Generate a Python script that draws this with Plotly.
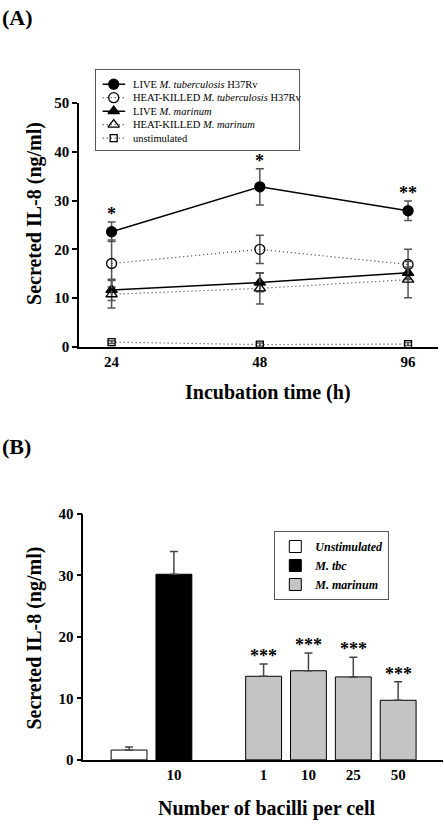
import plotly.graph_objects as go

# ---------------- Panel A data ----------------
times = ["24", "48", "96"]
live_tb = [23.6, 32.8, 27.9]
live_tb_err = [2.0, 3.7, 2.0]
hk_tb = [17.1, 20.0, 16.9]
hk_tb_err = [4.8, 2.9, 3.1]
live_mar = [11.7, 13.2, 15.2]
live_mar_err = [2.2, 1.9, 1.2]
hk_mar = [10.8, 12.0, 13.8]
hk_mar_err = [2.8, 3.2, 3.7]
unstim = [1.0, 0.5, 0.6]
unstim_err = [0.3, 0.3, 0.3]
sig_a = ["*", "*", "**"]
series_names = [
    "LIVE <i>M. tuberculosis</i> H37Rv",
    "HEAT-KILLED <i>M. tuberculosis</i> H37Rv",
    "LIVE <i>M. marinum</i>",
    "HEAT-KILLED <i>M. marinum</i>",
    "unstimulated",
]

# ---------------- Panel B data ----------------
b_unstim_x = ["U"]
b_unstim = [1.6]
b_unstim_err = [0.5]
b_tbc_x = ["T10"]
b_tbc = [30.2]
b_tbc_err = [3.7]
b_mar_x = ["M1", "M10", "M25", "M50"]
b_mar = [13.6, 14.5, 13.5, 9.7]
b_mar_err = [2.0, 2.9, 3.2, 3.0]
sig_b = ["***", "***", "***", "***"]
b_categories = ["U", "T10", "gap", "M1", "M10", "M25", "M50"]
b_ticktext = ["", "10", "", "1", "10", "25", "50"]

FONT = "Liberation Serif"
W, H = 444, 828
DOT = "1px,3px"


def pfy(px):
    return (H - px) / H


def pfx(px):
    return px / W


fig = go.Figure()

styles = [
    dict(symbol="circle", size=10, dash="solid", lw=1.5, lc="black"),
    dict(symbol="circle-open", size=10, dash=DOT, lw=1.2, lc="#333"),
    dict(symbol="triangle-up", size=10, dash="solid", lw=1.5, lc="black"),
    dict(symbol="triangle-up-open", size=10, dash=DOT, lw=1.2, lc="#333"),
    dict(symbol="square-open", size=7, dash=DOT, lw=1.2, lc="#333"),
]
values = [live_tb, hk_tb, live_mar, hk_mar, unstim]
errors = [live_tb_err, hk_tb_err, live_mar_err, hk_mar_err, unstim_err]

for name, y, e, st in zip(series_names, values, errors, styles):
    fig.add_trace(go.Scatter(
        x=times, y=y, name=name, mode="lines+markers", showlegend=False,
        line=dict(color=st["lc"], width=st["lw"], dash=st["dash"]),
        marker=dict(symbol=st["symbol"], size=st["size"], color="black",
                    line=dict(color="black", width=1.3)),
        error_y=dict(type="data", array=e, visible=True, color="#555", thickness=1.5, width=4),
        cliponaxis=False, xaxis="x", yaxis="y",
    ))

# ---- custom compact legend for panel A (drawn on its own small axis) ----
LEG_L, LEG_R, LEG_T, LEG_B = 95.7, 299.0, 63.3, 145.0
row0, row_step = 14.4, 13.75
key_x0, key_x1, key_mid, text_x = 7.0, 29.5, 18.0, 35.0
leg_ann = []
for i, (name, st) in enumerate(zip(series_names, styles)):
    ry = row0 + row_step * i
    fig.add_trace(go.Scatter(
        x=[key_x0, key_x1], y=[ry, ry], mode="lines", showlegend=False, hoverinfo="skip",
        line=dict(color=st["lc"], width=st["lw"], dash=st["dash"]), xaxis="x3", yaxis="y3"))
    fig.add_trace(go.Scatter(
        x=[key_mid], y=[ry], mode="markers", showlegend=False, hoverinfo="skip",
        marker=dict(symbol=st["symbol"], size=st["size"], color="black",
                    line=dict(color="black", width=1.3)), xaxis="x3", yaxis="y3"))
    leg_ann.append(dict(x=text_x, y=ry, xref="x3", yref="y3", text=name, showarrow=False,
                        xanchor="left", yanchor="middle",
                        font=dict(family=FONT, size=10.5, color="black")))

# Panel B bars
bar_err = dict(type="data", symmetric=False, color="#444", thickness=1.5, width=4)
fig.add_trace(go.Bar(x=b_unstim_x, y=b_unstim, name="<i>Unstimulated</i>",
                     marker=dict(color="white", line=dict(color="black", width=1)),
                     error_y=dict(bar_err, array=b_unstim_err, arrayminus=[0] * len(b_unstim)),
                     width=0.8, xaxis="x2", yaxis="y2", legend="legend2"))
fig.add_trace(go.Bar(x=b_tbc_x, y=b_tbc, name="<i>M. tbc</i>",
                     marker=dict(color="black", line=dict(color="black", width=1)),
                     error_y=dict(bar_err, array=b_tbc_err, arrayminus=[0] * len(b_tbc)),
                     width=0.8, xaxis="x2", yaxis="y2", legend="legend2"))
fig.add_trace(go.Bar(x=b_mar_x, y=b_mar, name="<i>M. marinum</i>",
                     marker=dict(color="#c4c4c4", line=dict(color="black", width=1)),
                     error_y=dict(bar_err, array=b_mar_err, arrayminus=[0] * len(b_mar)),
                     width=0.8, xaxis="x2", yaxis="y2", legend="legend2"))

# Annotations (category index used for panel A because its labels look numeric)
ann = list(leg_ann)
for i, (v, e, s) in enumerate(zip(live_tb, live_tb_err, sig_a)):
    ann.append(dict(x=i, y=v + e, xref="x", yref="y", text="<b>" + s + "</b>", showarrow=False,
                    yanchor="bottom", yshift=-4, font=dict(family=FONT, size=18, color="black")))
for c, v, e, s in zip(b_mar_x, b_mar, b_mar_err, sig_b):
    ann.append(dict(x=c, y=v + e, xref="x2", yref="y2", text="<b>" + s + "</b>", showarrow=False,
                    yanchor="bottom", yshift=-4, font=dict(family=FONT, size=18, color="black")))

ann += [
    dict(x=0, y=pfy(10), xref="paper", yref="paper", xanchor="left", yanchor="middle",
         text="<b>(A)</b>", showarrow=False, font=dict(family=FONT, size=22, color="black")),
    dict(x=0, y=pfy(447), xref="paper", yref="paper", xanchor="left", yanchor="middle",
         text="<b>(B)</b>", showarrow=False, font=dict(family=FONT, size=22, color="black")),
    dict(x=pfx(35), y=pfy(210), xref="paper", yref="paper", xanchor="center", yanchor="middle",
         text="<b>Secreted IL-8 (ng/ml)</b>", textangle=-90, showarrow=False,
         font=dict(family=FONT, size=20, color="black")),
    dict(x=pfx(268), y=pfy(392), xref="paper", yref="paper", xanchor="center", yanchor="middle",
         text="<b>Incubation time (h)</b>", showarrow=False, font=dict(family=FONT, size=20, color="black")),
    dict(x=pfx(35), y=pfy(643), xref="paper", yref="paper", xanchor="center", yanchor="middle",
         text="<b>Secreted IL-8 (ng/ml)</b>", textangle=-90, showarrow=False,
         font=dict(family=FONT, size=20, color="black")),
    dict(x=pfx(266), y=pfy(816), xref="paper", yref="paper", xanchor="center", yanchor="middle",
         text="<b>Number of bacilli per cell</b>", showarrow=False, font=dict(family=FONT, size=20, color="black")),
]

tickfont = dict(family=FONT, size=15, color="black", weight="bold")
fig.update_layout(
    width=W, height=H, margin=dict(l=0, r=0, t=0, b=0),
    paper_bgcolor="white", plot_bgcolor="white",
    barmode="overlay",
    xaxis=dict(domain=[pfx(79), pfx(437.7)], anchor="y", type="category", range=[-0.22, 2.2],
               showline=True, linecolor="black", linewidth=1.5, ticks="", tickfont=tickfont,
               showgrid=False, zeroline=False),
    yaxis=dict(domain=[pfy(345.7), pfy(96.7)], anchor="x", range=[0, 50], tickvals=[0, 10, 20, 30, 40, 50],
               showline=True, linecolor="black", linewidth=1.5, ticks="outside", ticklen=5,
               tickcolor="black", tickwidth=1.5, tickfont=tickfont, showgrid=False, zeroline=False),
    xaxis2=dict(domain=[pfx(83.3), pfx(443)], anchor="y2", type="category",
                categoryorder="array", categoryarray=b_categories, range=[-1.02, 7.0],
                tickvals=b_categories, ticktext=b_ticktext,
                showline=True, linecolor="black", linewidth=1.5, ticks="", tickfont=tickfont,
                showgrid=False, zeroline=False),
    yaxis2=dict(domain=[pfy(766.7), pfy(516)], anchor="x2", range=[0, 40], tickvals=[0, 10, 20, 30, 40],
                showline=True, linecolor="black", linewidth=1.5, ticks="outside", ticklen=5,
                tickcolor="black", tickwidth=1.5, tickfont=tickfont, showgrid=False, zeroline=False),
    xaxis3=dict(domain=[pfx(LEG_L), pfx(LEG_R)], anchor="y3", range=[0, LEG_R - LEG_L],
                showline=True, mirror=True, linecolor="#555", linewidth=1,
                showticklabels=False, ticks="", showgrid=False, zeroline=False),
    yaxis3=dict(domain=[pfy(LEG_B), pfy(LEG_T)], anchor="x3", range=[LEG_B - LEG_T, 0],
                showline=True, mirror=True, linecolor="#555", linewidth=1,
                showticklabels=False, ticks="", showgrid=False, zeroline=False),
    legend2=dict(x=pfx(274.3), y=pfy(533.3), xanchor="left", yanchor="top",
                 bgcolor="white", bordercolor="#555", borderwidth=1,
                 font=dict(family=FONT, size=12, color="black", weight="bold")),
    annotations=ann,
    showlegend=True,
)

fig.write_html("out.html", config={"displayModeBar": False},
               post_script="document.body.style.margin='0';")
